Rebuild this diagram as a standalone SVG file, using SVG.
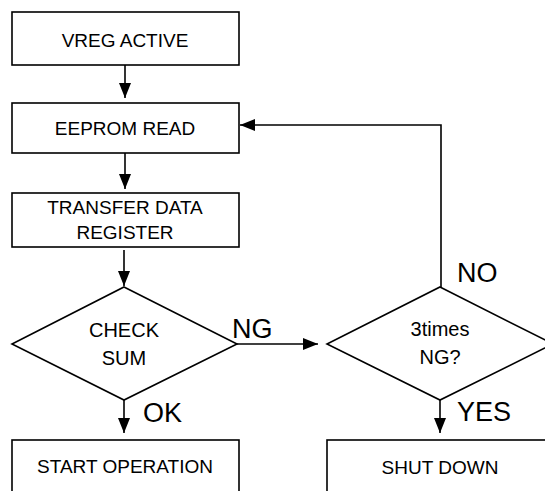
<svg xmlns="http://www.w3.org/2000/svg" width="545" height="491" viewBox="0 0 545 491">
<style>
.box{fill:#fff;stroke:#000;stroke-width:1.6}
.t{font-family:"Liberation Sans",Arial,sans-serif;font-size:19px;fill:#000;text-anchor:middle}
.d{font-size:20px}
.lbl{font-family:"Liberation Sans",Arial,sans-serif;font-size:27px;fill:#000}
.ln{fill:none;stroke:#000;stroke-width:1.6}
</style>
<defs>
<marker id="ah" markerUnits="userSpaceOnUse" markerWidth="16" markerHeight="14" refX="15" refY="7" orient="auto">
<path d="M0,1 L15,7 L0,13 Z" fill="#000"/>
</marker>
</defs>
<g id="n-vreg"><rect class="box" x="12" y="12" width="227" height="53"/><text class="t" x="125" y="47">VREG ACTIVE</text></g>
<g id="n-eeprom"><rect class="box" x="12" y="103" width="227" height="50"/><text class="t" x="125" y="135">EEPROM READ</text></g>
<g id="n-transfer"><rect class="box" x="12" y="193" width="227" height="54"/><text class="t" x="125" y="214">TRANSFER DATA</text><text class="t" x="125" y="239">REGISTER</text></g>
<g id="n-check"><polygon class="box" points="124,287 237,344 124,400 12,344"/><text class="t d" x="124" y="337">CHECK</text><text class="t d" x="124" y="365">SUM</text></g>
<g id="n-3times"><polygon class="box" points="440,287 553,344 440,400 327,344"/><text class="t d" x="440" y="336">3times</text><text class="t d" x="440" y="364">NG?</text></g>
<g id="n-start"><rect class="box" x="12" y="440" width="227" height="60"/><text class="t" x="125" y="473">START OPERATION</text></g>
<g id="n-shutdown"><rect class="box" x="327" y="440" width="230" height="60"/><text class="t" x="440" y="474">SHUT DOWN</text></g>
<g id="connectors">
<line class="ln" x1="125" y1="65" x2="125" y2="98" marker-end="url(#ah)"/>
<line class="ln" x1="125" y1="153" x2="125" y2="189" marker-end="url(#ah)"/>
<line class="ln" x1="124" y1="250" x2="124" y2="286" marker-end="url(#ah)"/>
<line class="ln" x1="124" y1="400" x2="124" y2="433" marker-end="url(#ah)"/>
<line class="ln" x1="237" y1="344" x2="318" y2="344" marker-end="url(#ah)"/>
<line class="ln" x1="440" y1="400" x2="440" y2="433" marker-end="url(#ah)"/>
<polyline class="ln" points="441,287 441,125 240,125" marker-end="url(#ah)"/>
<text class="lbl" x="232" y="338">NG</text>
<text class="lbl" x="143" y="422">OK</text>
<text class="lbl" x="457" y="282">NO</text>
<text class="lbl" x="457" y="421">YES</text>
</g>
</svg>
